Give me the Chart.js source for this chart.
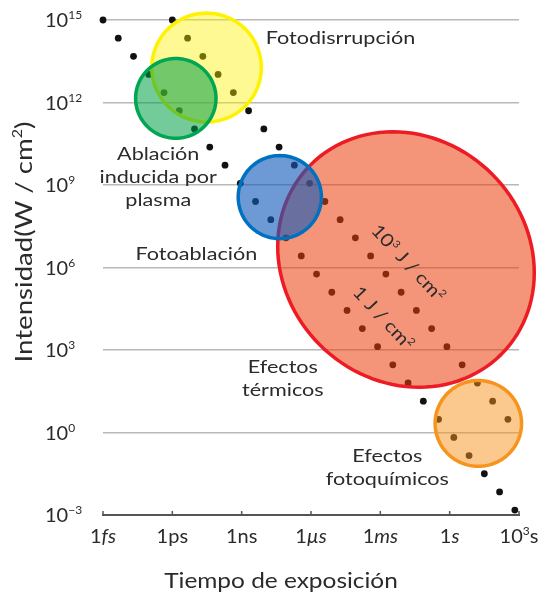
<!DOCTYPE html>
<html>
<head>
<meta charset="utf-8">
<script src="https://cdn.jsdelivr.net/npm/chart.js@4"></script>
<style>
  body { margin: 0; background: #fff; }
  canvas { display: block; }
</style>
</head>
<body>
<canvas id="grafico" width="547" height="596"></canvas>
<script>
// exponentes (log10)
var tiempo1J = [-15, -14.34, -13.68, -13.02, -12.36, -11.70, -11.04, -10.38, -9.72, -9.06, -8.40, -7.74, -7.08, -6.42,
    -5.76, -5.10, -4.44, -3.78, -3.12, -2.46, -1.80, -1.14, -0.48, 0.18, 0.84, 1.50, 2.16, 2.82];
var intensidad1J = [15, 14.34, 13.68, 13.02, 12.36, 11.70, 11.04, 10.38, 9.72, 9.06, 8.40, 7.74, 7.08, 6.42,
    5.76, 5.10, 4.44, 3.78, 3.12, 2.46, 1.80, 1.14, 0.48, -0.18, -0.84, -1.50, -2.16, -2.82];
var tiempo1kJ = [-12, -11.34, -10.68, -10.02, -9.36, -8.70, -8.04, -7.38, -6.72, -6.06, -5.40, -4.74, -4.08, -3.42,
    -2.76, -2.10, -1.44, -0.78, -0.12, 0.54, 1.20, 1.86, 2.52];
var intensidad1kJ = [15, 14.34, 13.68, 13.02, 12.36, 11.70, 11.04, 10.38, 9.72, 9.06, 8.40, 7.74, 7.08, 6.42,
    5.76, 5.10, 4.44, 3.78, 3.12, 2.46, 1.80, 1.14, 0.48];

var xTicks = [-15, -12, -9, -6, -3, 0, 3];
var yTicks = [15, 12, 9, 6, 3, 0, -3];
var xTickLabels = [
    [['1', ''], ['fs', 'i']],
    [['1', ''], ['ps', '']],
    [['1', ''], ['ns', '']],
    [['1', ''], ['\u00b5s', 'i']],
    [['1', ''], ['ms', 'i']],
    [['1', ''], ['s', 'i']],
    [['10', ''], ['3', 'sup'], ['s', '']]
];

// regiones: centro y semiejes en decadas
var regiones = [
    { cx: -10.52, cy: 13.27, a: [2.37, 0], b: [0, 1.98], borde: '#FFF200', relleno: 'rgba(255,240,0,0.42)' },
    { cx: -11.85, cy: 12.15, a: [1.74, 0], b: [0, 1.45], borde: '#00A651', relleno: 'rgba(0,160,70,0.55)' },
    { cx: -1.89, cy: 6.29, a: [4.12, -3.45], b: [3.72, 3.11], borde: '#ED1C24', relleno: 'rgba(235,60,10,0.55)' },
    { cx: -7.35, cy: 8.56, a: [1.80, 0], b: [0, 1.51], borde: '#0070C0', relleno: 'rgba(20,90,185,0.62)' },
    { cx: 1.24, cy: 0.33, a: [1.87, 0], b: [0, 1.56], borde: '#F7941D', relleno: 'rgba(247,148,30,0.5)' }
];

var textos = [
    { lineas: [[['Fotodisrrupci\u00f3n', '']]], x: -7.96, y: 14.13, align: 'left' },
    { lineas: [[['Ablaci\u00f3n', '']], [['inducida por', '']], [['plasma', '']]], x: -12.61, y: 9.91, align: 'center' },
    { lineas: [[['Fotoablaci\u00f3n', '']]], x: -10.96, y: 6.27, align: 'center' },
    { lineas: [[['Efectos', '']], [['t\u00e9rmicos', '']]], x: -7.22, y: 2.16, align: 'center' },
    { lineas: [[['Efectos', '']], [['fotoqu\u00edmicos', '']]], x: -2.70, y: -1.07, align: 'center' },
    { lineas: [[['10', ''], ['3', 'sup'], [' J / cm', ''], ['2', 'sup']]], x: -1.80, y: 6.16, align: 'center', giro: 47 },
    { lineas: [[['1 J / cm', ''], ['2', 'sup']]], x: -2.87, y: 4.16, align: 'center', giro: 47 }
];

var FAMILIA = 'Lato, "Open Sans", sans-serif';

function fuente(tipo, size) {
    var s = tipo.indexOf('sup') >= 0 ? Math.round(size * 0.58) : size;
    return (tipo.indexOf('i') === 0 ? 'italic ' : '') + s + 'px ' + FAMILIA;
}

// texto con superindices; k estira en horizontal
function dibujarRico(ctx, partes, x, y, size, align, k) {
    k = k || 1;
    var w = 0;
    for (var i = 0; i < partes.length; i++) {
        ctx.font = fuente(partes[i][1], size);
        w += ctx.measureText(partes[i][0]).width;
    }
    var px = align === 'center' ? -w / 2 : (align === 'right' ? -w : 0);
    ctx.save();
    ctx.translate(x, y);
    ctx.scale(k, 1);
    ctx.textAlign = 'left';
    ctx.textBaseline = 'alphabetic';
    for (var j = 0; j < partes.length; j++) {
        ctx.font = fuente(partes[j][1], size);
        var dy = partes[j][1] === 'sup' ? -size * 0.4 : 0;
        ctx.fillText(partes[j][0], px, dy);
        px += ctx.measureText(partes[j][0]).width;
    }
    ctx.restore();
}

var pluginDibujo = {
    id: 'dibujo',
    afterDatasetsDraw: function (chart) {
        var ctx = chart.ctx;
        var sx = chart.scales.x, sy = chart.scales.y;
        regiones.forEach(function (r) {
            ctx.save();
            ctx.beginPath();
            for (var k = 0; k <= 120; k++) {
                var t = k / 120 * Math.PI * 2;
                var ex = r.cx + r.a[0] * Math.cos(t) + r.b[0] * Math.sin(t);
                var ey = r.cy + r.a[1] * Math.cos(t) + r.b[1] * Math.sin(t);
                var px = sx.getPixelForValue(Math.pow(10, ex));
                var py = sy.getPixelForValue(Math.pow(10, ey));
                if (k === 0) ctx.moveTo(px, py); else ctx.lineTo(px, py);
            }
            ctx.closePath();
            ctx.fillStyle = r.relleno;
            ctx.fill();
            ctx.lineWidth = 3.5;
            ctx.strokeStyle = r.borde;
            ctx.stroke();
            ctx.restore();
        });
    },
    afterDraw: function (chart) {
        var ctx = chart.ctx;
        var sx = chart.scales.x, sy = chart.scales.y;
        var area = chart.chartArea;
        ctx.save();
        ctx.fillStyle = '#2b2b2b';

        // marcas del eje x
        ctx.strokeStyle = '#555';
        ctx.lineWidth = 1.5;
        xTicks.forEach(function (e, i) {
            var px = sx.getPixelForValue(Math.pow(10, e));
            ctx.beginPath();
            ctx.moveTo(px, area.bottom);
            ctx.lineTo(px, area.bottom - 4);
            ctx.stroke();
            dibujarRico(ctx, xTickLabels[i], px, area.bottom + 28, 20, 'center');
        });

        // etiquetas del eje y
        yTicks.forEach(function (e) {
            var py = sy.getPixelForValue(Math.pow(10, e));
            var sup = e < 0 ? '\u2212' + Math.abs(e) : String(e);
            dibujarRico(ctx, [['10', ''], [sup, 'sup']], 45, py + 7, 20, 'left');
        });

        // titulos de ejes
        dibujarRico(ctx, [['Tiempo de exposici\u00f3n', '']], 281, 588, 22, 'center', 1.11);
        ctx.save();
        ctx.translate(32, 242);
        ctx.rotate(-Math.PI / 2);
        dibujarRico(ctx, [['Intensidad(W / cm', ''], ['2', 'sup'], [')', '']], 0, 0, 24, 'center', 1.15);
        ctx.restore();

        // anotaciones
        textos.forEach(function (t) {
            var px = sx.getPixelForValue(Math.pow(10, t.x));
            var py = sy.getPixelForValue(Math.pow(10, t.y));
            ctx.save();
            ctx.translate(px, py);
            if (t.giro) {
                ctx.rotate(t.giro * Math.PI / 180);
                dibujarRico(ctx, t.lineas[0], 0, 6, 18, 'center', 1.15);
            } else {
                t.lineas.forEach(function (l, i) {
                    dibujarRico(ctx, l, 0, i * 23, 18, t.align, 1.2);
                });
            }
            ctx.restore();
        });
        ctx.restore();
    }
};

function puntos(ts, is) {
    return ts.map(function (t, i) { return { x: Math.pow(10, t), y: Math.pow(10, is[i]) }; });
}

var ctx = document.getElementById('grafico').getContext('2d');
var grafico = new Chart(ctx, {
    type: 'scatter',
    data: {
        datasets: [
            { label: '1 J/cm2', data: puntos(tiempo1J, intensidad1J), backgroundColor: '#111', pointRadius: 3.4, borderWidth: 0, clip: false },
            { label: '10^3 J/cm2', data: puntos(tiempo1kJ, intensidad1kJ), backgroundColor: '#111', pointRadius: 3.4, borderWidth: 0, clip: false }
        ]
    },
    options: {
        responsive: false,
        animation: false,
        devicePixelRatio: 1,
        layout: { padding: { top: 20, right: 28, left: 0, bottom: 0 } },
        plugins: { legend: { display: false }, tooltip: { enabled: false } },
        events: [],
        scales: {
            x: {
                type: 'logarithmic',
                min: 1e-15,
                max: 1e3,
                afterBuildTicks: function (s) { s.ticks = xTicks.map(function (e) { return { value: Math.pow(10, e) }; }); },
                afterFit: function (s) { s.height = 81; },
                ticks: { display: false },
                grid: { display: false },
                border: { display: true, color: '#555', width: 2 }
            },
            y: {
                type: 'logarithmic',
                min: 1e-3,
                max: 1e15,
                afterBuildTicks: function (s) { s.ticks = yTicks.map(function (e) { return { value: Math.pow(10, e) }; }); },
                afterFit: function (s) { s.width = 103; },
                ticks: { display: false },
                grid: {
                    drawTicks: false,
                    lineWidth: 1.5,
                    color: function (c) { return c.tick && c.tick.value < 1e-2 ? 'rgba(0,0,0,0)' : '#B8B8B8'; }
                },
                border: { display: false }
            }
        }
    },
    plugins: [pluginDibujo]
});
</script>
</body>
</html>
